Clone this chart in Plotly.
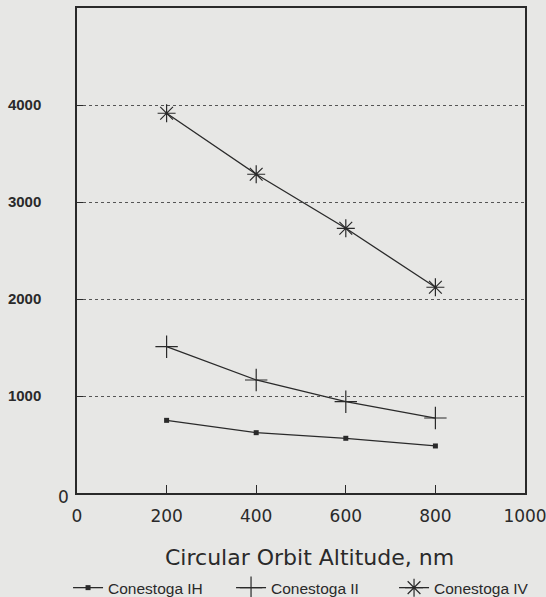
import plotly.graph_objects as go

altitude = [200, 400, 600, 800]
conestoga_ih = [749, 622, 564, 485]
conestoga_ii = [1508, 1165, 941, 773]
conestoga_iv = [3915, 3286, 2729, 2121]

x_ticks = [0, 200, 400, 600, 800, 1000]
y_ticks = [1000, 2000, 3000, 4000]

BG = "#e7e7e5"
INK = "#2a2a2a"

fig = go.Figure()
fig.add_trace(go.Scatter(x=altitude, y=conestoga_ih, name="Conestoga IH", mode="lines+markers",
                         line=dict(color=INK, width=1.3),
                         marker=dict(symbol="square", size=5, color=INK)))
fig.add_trace(go.Scatter(x=altitude, y=conestoga_ii, name="Conestoga II", mode="lines+markers",
                         line=dict(color=INK, width=1.3),
                         marker=dict(symbol="cross-thin", size=16, line=dict(color=INK, width=1.2))))
fig.add_trace(go.Scatter(x=altitude, y=conestoga_iv, name="Conestoga IV", mode="lines+markers",
                         line=dict(color=INK, width=1.3),
                         marker=dict(symbol="asterisk", size=15, line=dict(color=INK, width=1.2))))

fig.update_layout(
    width=546, height=597,
    margin=dict(l=77, r=21, t=8, b=104, autoexpand=False),
    paper_bgcolor=BG, plot_bgcolor=BG,
    font=dict(family="DejaVu Sans", color=INK),
    showlegend=True,
    legend=dict(orientation="h", x=-0.02, xanchor="left", y=-0.196, yanchor="middle",
                font=dict(family="Liberation Sans", size=15.5, color=INK),
                bgcolor="rgba(0,0,0,0)", itemwidth=30, entrywidth=118, tracegroupgap=0),
    xaxis=dict(range=[0, 1000], tickvals=x_ticks, ticktext=[str(v) for v in x_ticks],
               ticks="inside", ticklen=8, tickcolor=INK, showgrid=False, zeroline=False,
               showline=True, linecolor=INK, linewidth=1.5, mirror=True, automargin=False,
               ticklabeloverflow="allow", ticklabelstandoff=7,
               tickfont=dict(family="DejaVu Sans", size=17, color=INK)),
    yaxis=dict(range=[0, 5000], tickvals=y_ticks, ticktext=[str(v) for v in y_ticks],
               ticks="inside", ticklen=6, tickcolor=INK, showgrid=True,
               gridcolor="#555555", griddash="dot", gridwidth=1, zeroline=False,
               showline=True, linecolor=INK, linewidth=1.5, mirror=True, automargin=False,
               ticklabelstandoff=31,
               tickfont=dict(family="Liberation Sans", size=15, color=INK, weight="bold")),
)
fig.add_annotation(x=0, y=0, xref="x", yref="y", text="0", showarrow=False,
                   xanchor="right", yanchor="middle", xshift=-6, yshift=-4,
                   font=dict(family="DejaVu Sans", size=17, color=INK))
fig.add_annotation(x=0.52, y=-0.132, xref="paper", yref="paper",
                   text="Circular Orbit Altitude, nm", showarrow=False,
                   xanchor="center", yanchor="middle",
                   font=dict(family="DejaVu Sans", size=22, color=INK))

fig.write_html("out.html", config={"displayModeBar": False},
               post_script="document.body.style.margin='0';document.body.style.background='%s';" % BG)
